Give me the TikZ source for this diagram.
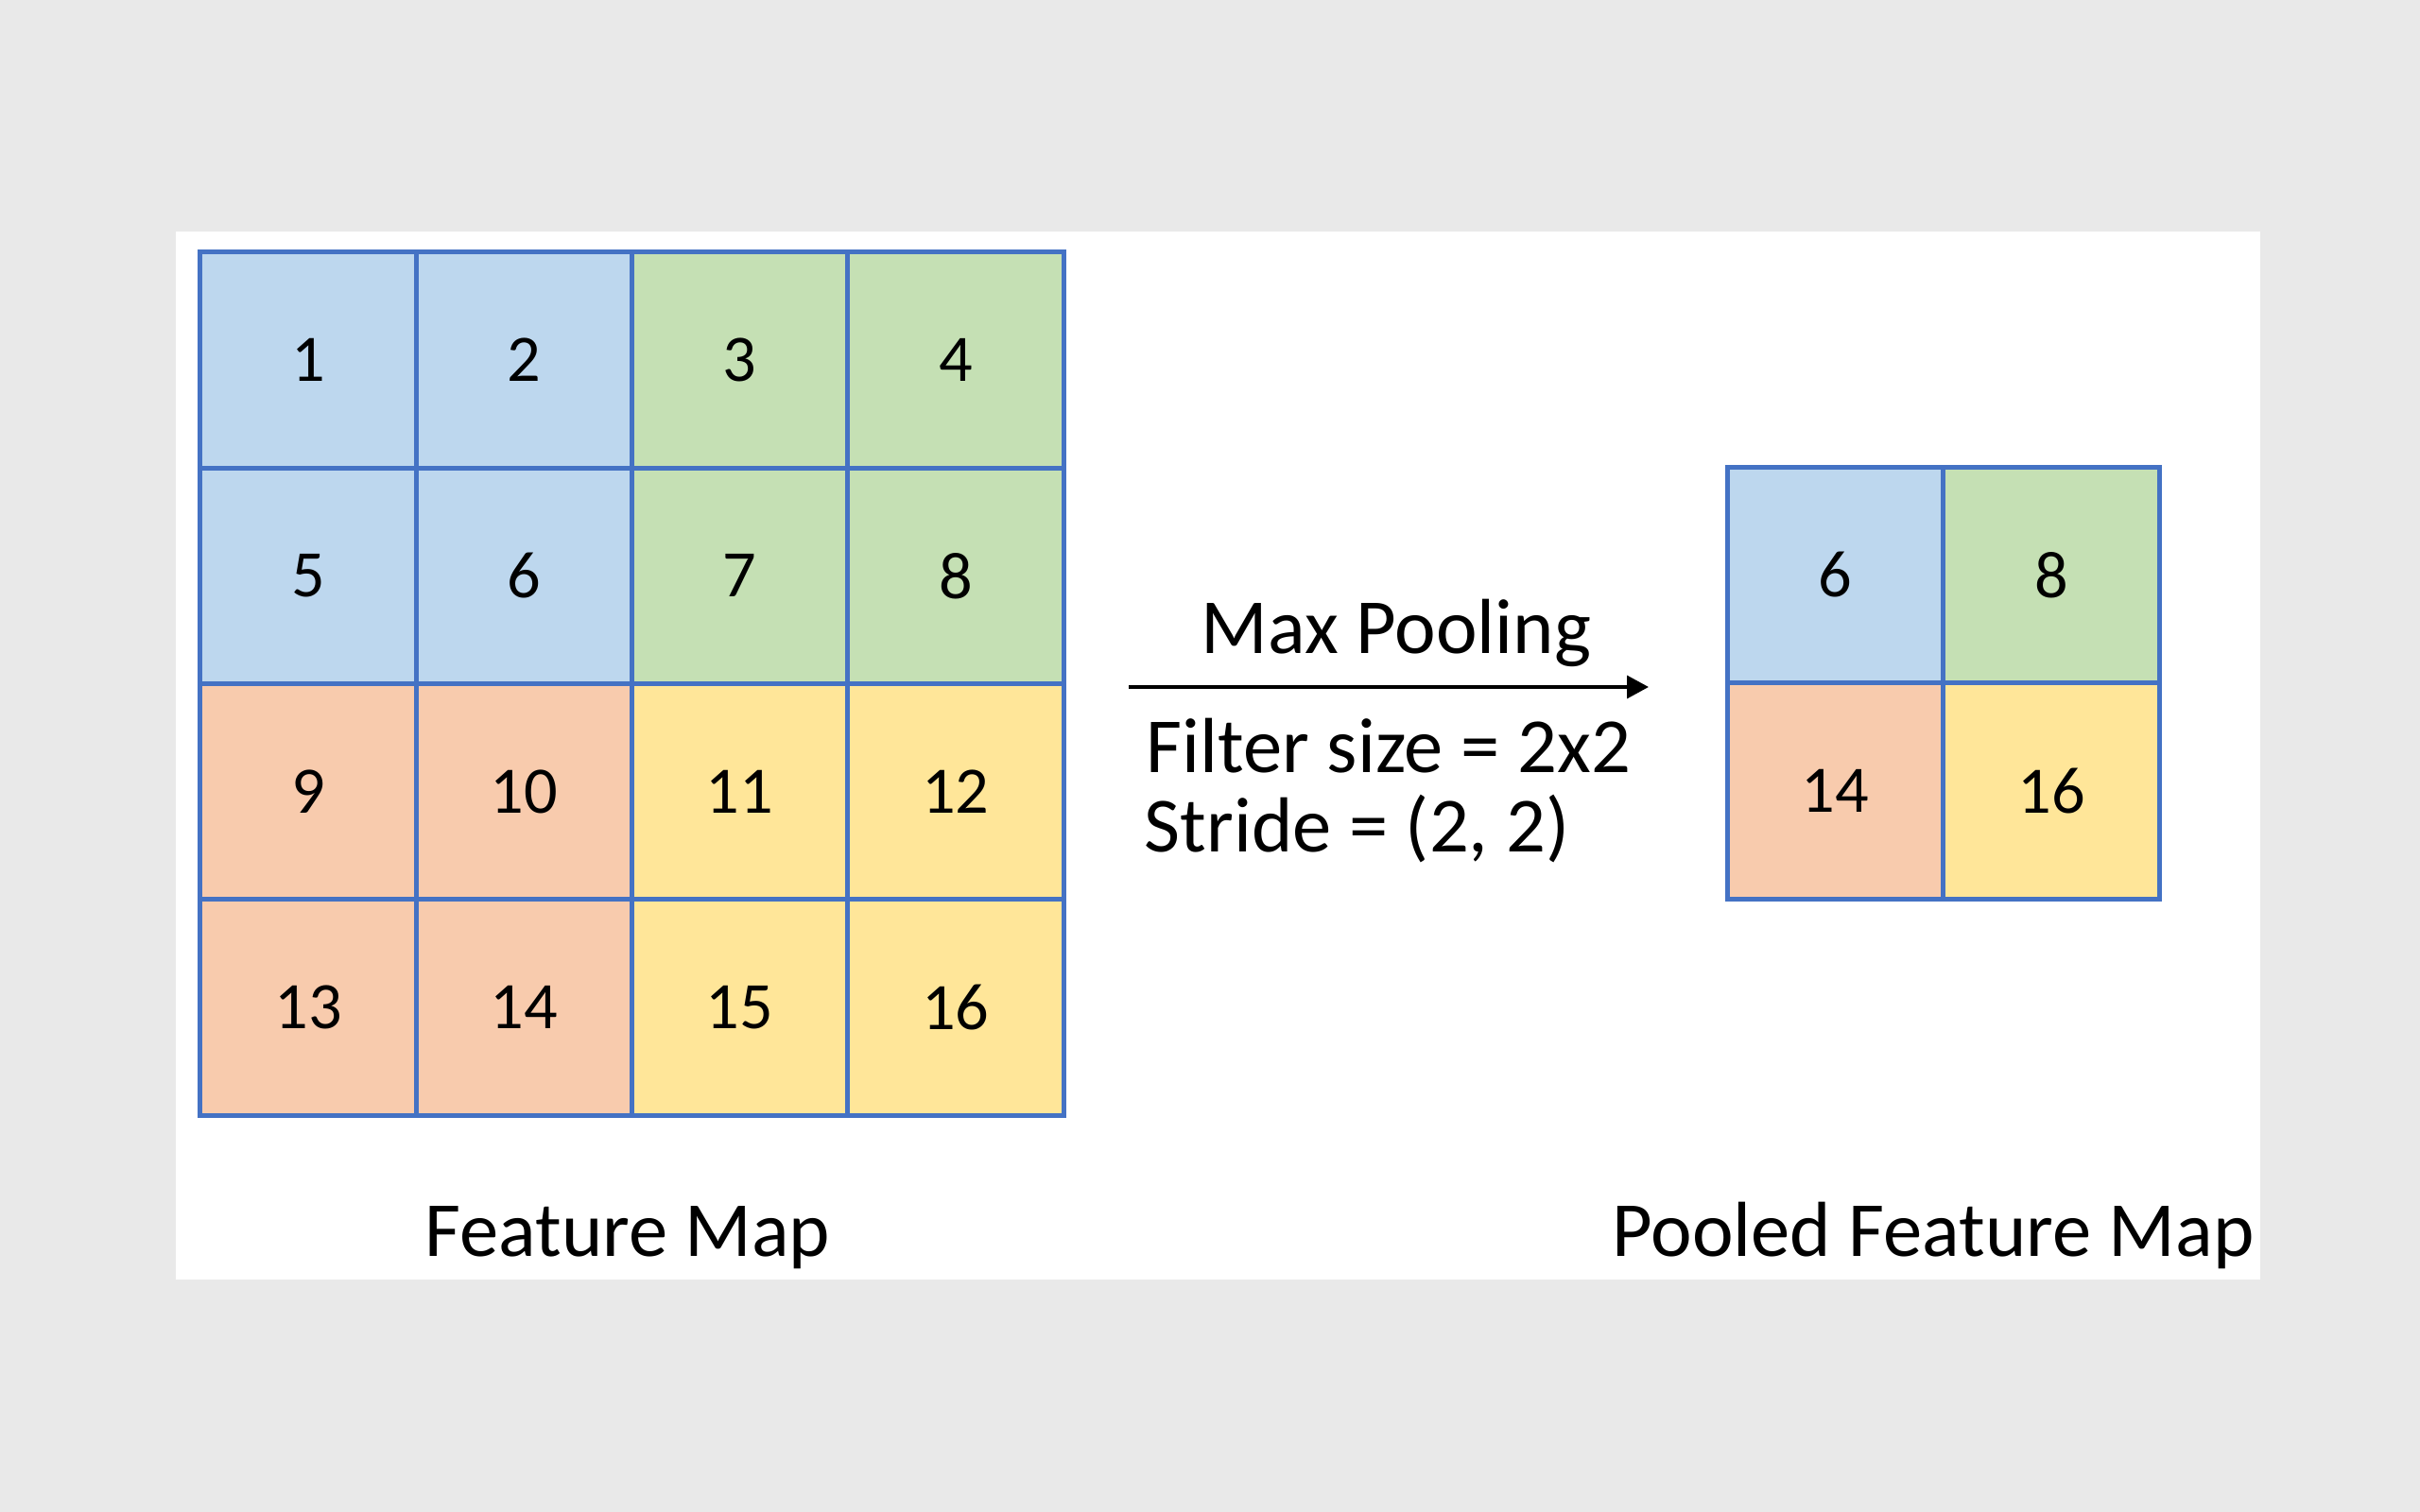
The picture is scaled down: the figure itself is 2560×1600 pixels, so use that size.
\documentclass[tikz,border=0pt]{standalone}
\usepackage{fontspec}
\setmainfont{Carlito}
\usetikzlibrary{arrows.meta}
\definecolor{bgGray}{HTML}{E9E9E9}
\definecolor{edgeBlue}{HTML}{4472C4}
\definecolor{cellBlue}{HTML}{BDD7EE}
\definecolor{cellGreen}{HTML}{C5E0B4}
\definecolor{cellOrange}{HTML}{F8CBAD}
\definecolor{cellYellow}{HTML}{FFE699}
\newcommand*{\stp}{22.825mm}
\tikzset{cellbox/.style={draw=edgeBlue, line width=0.5mm, minimum size=\stp, inner sep=0pt, font=\fontsize{20}{24}\selectfont}}

\begin{document}
\begin{tikzpicture}[x=0.1mm, y=0.1mm, font=\fontsize{23.5}{28}\selectfont]
    \fill [bgGray] (0,0) rectangle (2560,1600);
    \fill [white] (186,246) rectangle (2391,1355);
    % feature map
    \node [cellbox, fill=cellBlue]   (f1)  at ( 326.1,1218.9) {1};
    \node [cellbox, fill=cellBlue]   (f2)  at ( 554.4,1218.9) {2};
    \node [cellbox, fill=cellGreen]  (f3)  at ( 782.6,1218.9) {3};
    \node [cellbox, fill=cellGreen]  (f4)  at (1010.9,1218.9) {4};
    \node [cellbox, fill=cellBlue]   (f5)  at ( 326.1, 990.6) {5};
    \node [cellbox, fill=cellBlue]   (f6)  at ( 554.4, 990.6) {6};
    \node [cellbox, fill=cellGreen]  (f7)  at ( 782.6, 990.6) {7};
    \node [cellbox, fill=cellGreen]  (f8)  at (1010.9, 990.6) {8};
    \node [cellbox, fill=cellOrange] (f9)  at ( 326.1, 762.4) {9};
    \node [cellbox, fill=cellOrange] (f10) at ( 554.4, 762.4) {10};
    \node [cellbox, fill=cellYellow] (f11) at ( 782.6, 762.4) {11};
    \node [cellbox, fill=cellYellow] (f12) at (1010.9, 762.4) {12};
    \node [cellbox, fill=cellOrange] (f13) at ( 326.1, 534.1) {13};
    \node [cellbox, fill=cellOrange] (f14) at ( 554.4, 534.1) {14};
    \node [cellbox, fill=cellYellow] (f15) at ( 782.6, 534.1) {15};
    \node [cellbox, fill=cellYellow] (f16) at (1010.9, 534.1) {16};
    % pooled map
    \node [cellbox, fill=cellBlue]   (p6)  at (1941.5, 991.5) {6};
    \node [cellbox, fill=cellGreen]  (p8)  at (2170.0, 991.5) {8};
    \node [cellbox, fill=cellOrange] (p14) at (1941.5, 763.0) {14};
    \node [cellbox, fill=cellYellow] (p16) at (2170.0, 763.0) {16};
    % arrow and labels
    \coordinate (arrowL) at (1194,873);
    \coordinate (arrowR) at (1744,873);
    \draw [line width=0.35mm, -{Triangle[length=2.3mm,width=2.4mm]}] (arrowL) -- (arrowR);
    \node [anchor=base] (maxlbl) at (1477,908) {Max Pooling};
    \node [anchor=base west, inner sep=0pt] (filterlbl) at (1212,782) {Filter size = 2x2};
    \node [anchor=base west, inner sep=0pt] (stridelbl) at (1210,698) {Stride = (2, 2)};
    \node [anchor=base] (fmlbl)  at ( 664,270) {Feature Map};
    \node [anchor=base] (pfmlbl) at (2045,270) {Pooled Feature Map};
\end{tikzpicture}
\end{document}
